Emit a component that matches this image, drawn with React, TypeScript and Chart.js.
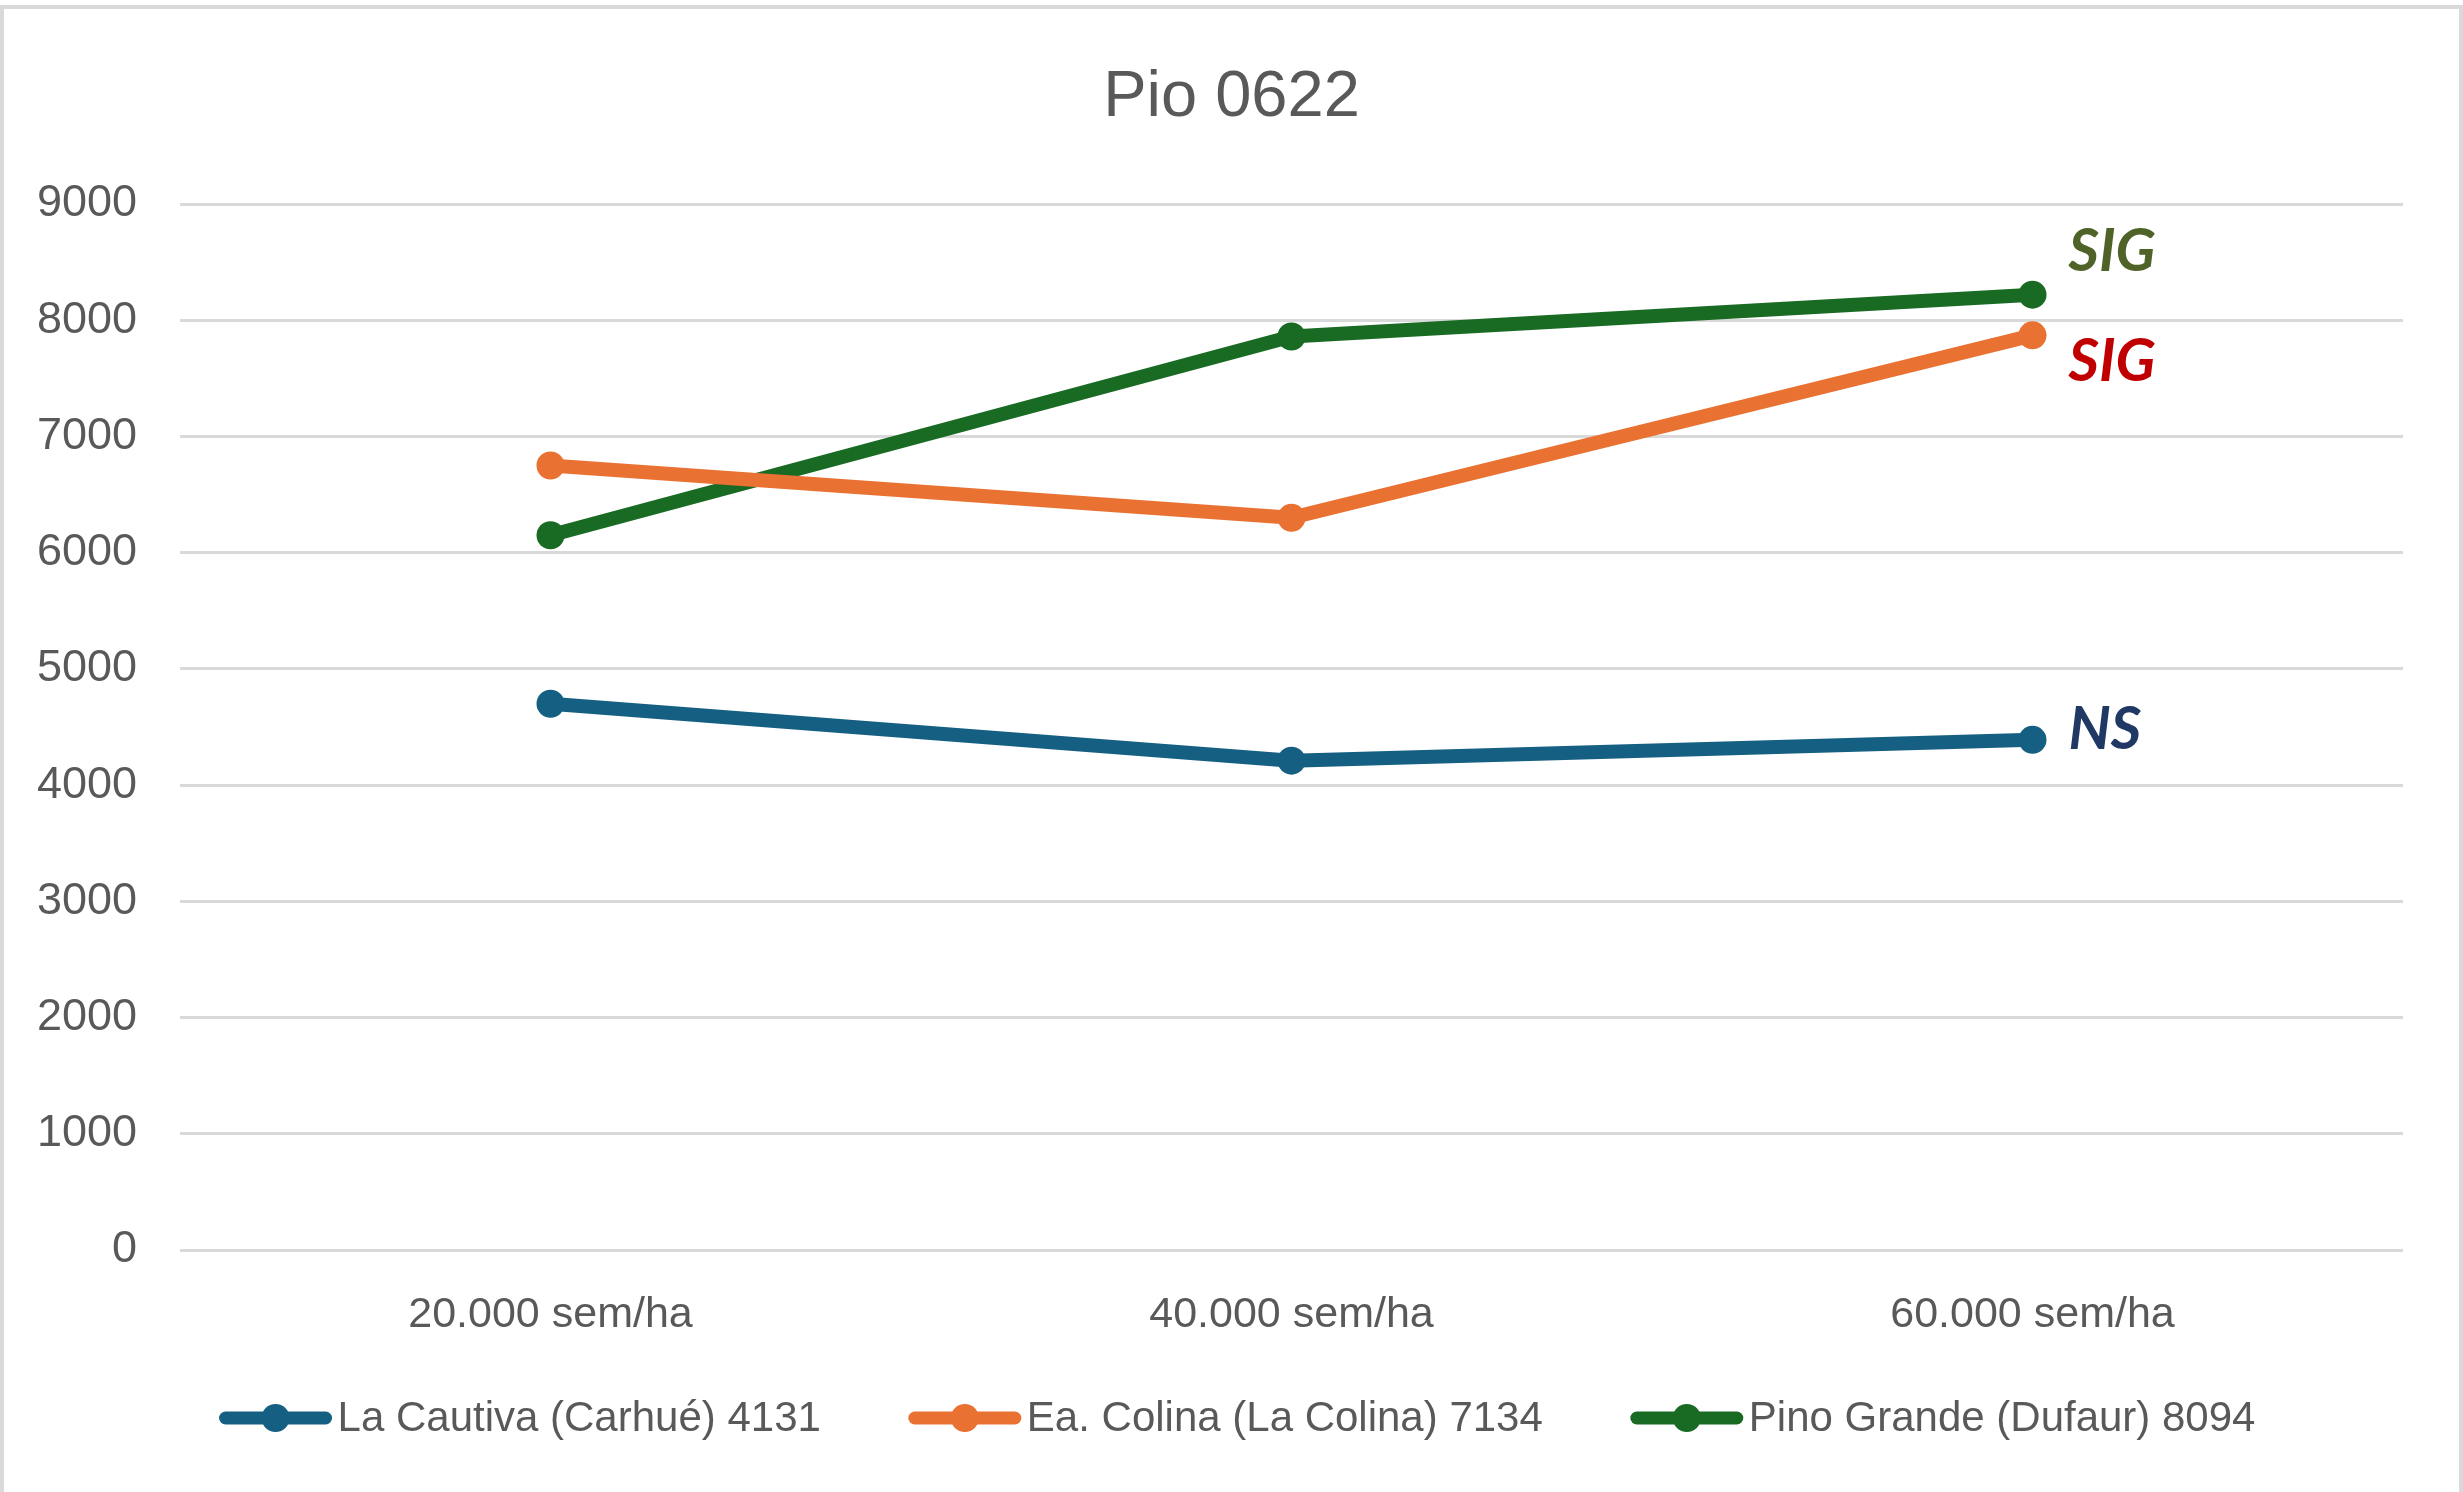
import React, { useEffect, useRef } from 'react';
import { Chart, registerables } from 'chart.js';

Chart.register(...registerables);

const TITLE = 'Pio 0622';
const categories = ['20.000 sem/ha', '40.000 sem/ha', '60.000 sem/ha'];
const seriesNames = [
  'La Cautiva (Carhué) 4131',
  'Ea. Colina (La Colina) 7134',
  'Pino Grande (Dufaur) 8094',
];
const laCautiva = [4700, 4210, 4390];
const eaColina = [6750, 6300, 7870];
const pinoGrande = [6150, 7860, 8220];
const seriesValues = [laCautiva, eaColina, pinoGrande];
const seriesColors = ['#156082', '#E97132', '#196B24'];
const significance = ['NS', 'SIG', 'SIG'];
const significanceColors = ['#203864', '#C00000', '#4F6228'];
const Y_MIN = 0;
const Y_MAX = 9000;
const Y_STEP = 1000;

const FONT = '"Liberation Sans", Arial, sans-serif';
const TEXT_COLOR = '#595959';
const SIG_OFFSETS = [-10, 27, -43];

const frameAndTitle = {
  id: 'frameAndTitle',
  beforeDraw(chart: any) {
    const { ctx, width, height } = chart;
    ctx.save();
    ctx.fillStyle = '#ffffff';
    ctx.fillRect(0, 0, width, height);
    ctx.strokeStyle = '#d9d9d9';
    ctx.lineWidth = 4;
    ctx.strokeRect(2, 7, width - 4, height + 20);
    ctx.restore();
  },
  afterDraw(chart: any) {
    const { ctx, width } = chart;
    ctx.save();
    ctx.fillStyle = TEXT_COLOR;
    ctx.font = `65px ${FONT}`;
    ctx.textAlign = 'center';
    ctx.textBaseline = 'middle';
    ctx.fillText(TITLE, width / 2, 98);
    ctx.restore();
  },
};

const sigLabels = {
  id: 'sigLabels',
  afterDatasetsDraw(chart: any) {
    const { ctx } = chart;
    const xs = chart.scales.x;
    const ys = chart.scales.y;
    ctx.save();
    ctx.font = `italic bold 59px Lato, "Open Sans", sans-serif`;
    ctx.textAlign = 'left';
    ctx.textBaseline = 'middle';
    chart.data.datasets.forEach((ds: any, i: number) => {
      const last = ds.data.length - 1;
      const px = xs.getPixelForValue(last) + 36;
      const py = ys.getPixelForValue(ds.data[last]) + SIG_OFFSETS[i];
      ctx.fillStyle = significanceColors[i];
      ctx.fillText(significance[i], px, py);
    });
    ctx.restore();
  },
};

const excelLegend = {
  id: 'excelLegend',
  afterDraw(chart: any) {
    const { ctx, width } = chart;
    ctx.save();
    ctx.font = `42px ${FONT}`;
    const lineLen = 112;
    const gapText = 6;
    const gapItem = 88;
    const items = chart.data.datasets.map((ds: any) => ({
      label: ds.label,
      color: ds.borderColor,
      w: ctx.measureText(ds.label).width,
    }));
    const total =
      items.reduce((s: number, it: any) => s + lineLen + gapText + it.w, 0) +
      gapItem * (items.length - 1);
    let x = width / 2 + 6 - total / 2;
    const y = chart.chartArea.bottom + 168;
    items.forEach((it: any) => {
      ctx.strokeStyle = it.color;
      ctx.lineWidth = 13;
      ctx.lineCap = 'round';
      ctx.beginPath();
      ctx.moveTo(x + 6, y);
      ctx.lineTo(x + lineLen - 6, y);
      ctx.stroke();
      ctx.fillStyle = it.color;
      ctx.beginPath();
      ctx.arc(x + lineLen / 2, y, 14, 0, Math.PI * 2);
      ctx.fill();
      ctx.fillStyle = TEXT_COLOR;
      ctx.textAlign = 'left';
      ctx.textBaseline = 'middle';
      ctx.fillText(it.label, x + lineLen + gapText, y + 1);
      x += lineLen + gapText + it.w + gapItem;
    });
    ctx.restore();
  },
};

export default function App() {
  const canvasRef = useRef<HTMLCanvasElement | null>(null);

  useEffect(() => {
    if (!canvasRef.current) return;
    const chart = new Chart(canvasRef.current, {
      type: 'line',
      data: {
        labels: categories,
        datasets: seriesValues.map((vals, i) => ({
          label: seriesNames[i],
          data: vals,
          borderColor: seriesColors[i],
          backgroundColor: seriesColors[i],
          borderWidth: 14,
          borderCapStyle: 'round',
          borderJoinStyle: 'round',
          pointRadius: 14,
          pointHoverRadius: 14,
          pointBorderWidth: 0,
          pointBackgroundColor: seriesColors[i],
          tension: 0,
          fill: false,
        })),
      },
      options: {
        responsive: false,
        animation: false,
        devicePixelRatio: 1,
        layout: { padding: { top: 204, right: 60, bottom: 142, left: 0 } },
        plugins: {
          legend: { display: false },
          title: { display: false },
          tooltip: { enabled: false },
        },
        scales: {
          x: {
            offset: true,
            grid: { display: false },
            border: { display: false },
            ticks: {
              color: TEXT_COLOR,
              font: { family: FONT, size: 43 },
              padding: 31,
              maxRotation: 0,
            },
            afterFit(scale: any) {
              scale.height = 100;
            },
          },
          y: {
            min: Y_MIN,
            max: Y_MAX,
            ticks: {
              stepSize: Y_STEP,
              color: TEXT_COLOR,
              font: { family: FONT, size: 45 },
              padding: 43,
              callback: (v: any) => String(v),
            },
            grid: { color: '#d9d9d9', lineWidth: 3, drawTicks: false },
            border: { display: false },
            afterFit(scale: any) {
              scale.width = 180;
            },
          },
        },
      } as any,
      plugins: [frameAndTitle, sigLabels, excelLegend],
    });
    return () => chart.destroy();
  }, []);

  return (
    <div style={{ position: 'absolute', left: 0, top: 0, width: 2463, height: 1492, background: '#fff' }}>
      <canvas ref={canvasRef} width={2463} height={1492} style={{ display: 'block', width: 2463, height: 1492 }} />
    </div>
  );
}
